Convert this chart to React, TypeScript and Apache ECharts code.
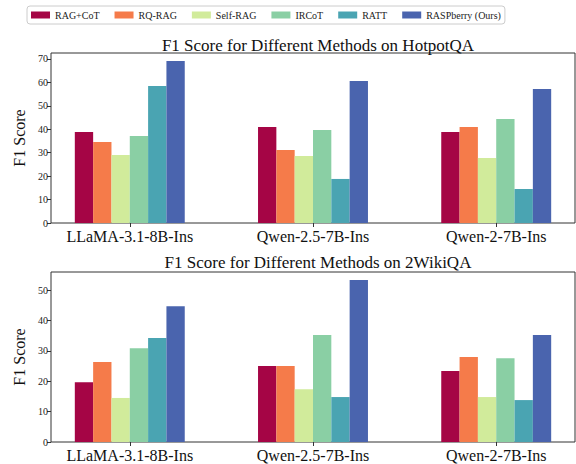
import React, { useEffect, useRef } from "react";
import * as echarts from "echarts";

const models = ["LLaMA-3.1-8B-Ins", "Qwen-2.5-7B-Ins", "Qwen-2-7B-Ins"];
const methods = ["RAG+CoT", "RQ-RAG", "Self-RAG", "IRCoT", "RATT", "RASPberry (Ours)"];
const colors = ["#a50545", "#f57b4a", "#d1eb9b", "#8acfa4", "#4aa4b2", "#4a64ae"];

// HotpotQA F1 per method, order: LLaMA, Qwen-2.5, Qwen-2
const hotpotRagCot = [38.8, 41.0, 38.8];
const hotpotRqRag = [34.6, 31.2, 41.0];
const hotpotSelfRag = [29.0, 28.6, 27.7];
const hotpotIrcot = [37.1, 39.7, 44.4];
const hotpotRatt = [58.5, 18.8, 14.5];
const hotpotRasp = [69.1, 60.6, 57.2];

// 2WikiQA F1
const wikiRagCot = [19.7, 25.0, 23.4];
const wikiRqRag = [26.3, 25.0, 28.0];
const wikiSelfRag = [14.5, 17.4, 14.8];
const wikiIrcot = [30.9, 35.2, 27.6];
const wikiRatt = [34.2, 14.8, 13.8];
const wikiRasp = [44.7, 53.3, 35.2];

const hotpotTicks = [0, 10, 20, 30, 40, 50, 60, 70];
const wikiTicks = [0, 10, 20, 30, 40, 50];

const hotpot = [hotpotRagCot, hotpotRqRag, hotpotSelfRag, hotpotIrcot, hotpotRatt, hotpotRasp];
const wiki = [wikiRagCot, wikiRqRag, wikiSelfRag, wikiIrcot, wikiRatt, wikiRasp];

const FONT = "Liberation Serif";

export default function App() {
  const ref = useRef<HTMLDivElement>(null);
  useEffect(() => {
    if (!ref.current) return;
    const chart = echarts.init(ref.current, undefined, { renderer: "svg" });
    const maxOf = (arr: number[][]) => Math.max(...arr.flat()) * 1.05;
    const modelIdx = [0, 1, 2];
    const xAxis = (gi: number) => ({
      type: "value",
      gridIndex: gi,
      min: -0.43,
      max: 2.43,
      splitLine: { show: false },
      axisLine: { show: false, onZero: false },
      axisTick: { show: true, length: 4, lineStyle: { color: "#333" }, customValues: modelIdx },
      axisLabel: {
        customValues: modelIdx,
        formatter: (v: number) => models[Math.round(v)],
        fontFamily: FONT,
        fontSize: 16,
        color: "#111",
        margin: 5,
      },
    });
    const yAxis = (gi: number, ticks: number[], max: number) => ({
      type: "value",
      gridIndex: gi,
      min: 0,
      max,
      name: "F1 Score",
      nameLocation: "middle",
      nameGap: 19,
      nameTextStyle: { fontFamily: FONT, fontSize: 16, color: "#111" },
      splitLine: { show: false },
      axisLine: { show: false, onZero: false },
      axisTick: { show: true, length: 4, lineStyle: { color: "#333" }, customValues: ticks },
      axisLabel: { customValues: ticks, fontFamily: FONT, fontSize: 10, color: "#222", margin: 3 },
    });
    const series: any[] = [];
    [hotpot, wiki].forEach((ds, gi) => {
      ds.forEach((vals, mi) => {
        series.push({
          type: "bar",
          name: methods[mi],
          xAxisIndex: gi,
          yAxisIndex: gi,
          data: vals.map((v, i) => [modelIdx[i], v]),
          itemStyle: { color: colors[mi] },
          barGap: "0%",
          barCategoryGap: "40%",
        });
      });
    });
    chart.setOption({
      animation: false,
      backgroundColor: "#fff",
      color: colors,
      legend: {
        data: methods,
        left: 27,
        top: 6,
        padding: [4, 4],
        itemGap: 15,
        itemWidth: 19,
        itemHeight: 7,
        icon: "rect",
        borderColor: "#ccc",
        borderWidth: 1,
        borderRadius: 3,
        textStyle: { fontFamily: FONT, fontSize: 10, color: "#222" },
      },
      title: [
        {
          text: "F1 Score for Different Methods on HotpotQA",
          left: 313,
          textAlign: "center",
          top: 32,
          textStyle: { fontFamily: FONT, fontSize: 17, fontWeight: "normal", color: "#111" },
        },
        {
          text: "F1 Score for Different Methods on 2WikiQA",
          left: 313,
          textAlign: "center",
          top: 249,
          textStyle: { fontFamily: FONT, fontSize: 17, fontWeight: "normal", color: "#111" },
        },
      ],
      grid: [
        { left: 51, width: 524, top: 53, height: 170, show: true, borderColor: "#333", borderWidth: 1, backgroundColor: "transparent" },
        { left: 51, width: 524, top: 272, height: 170, show: true, borderColor: "#333", borderWidth: 1, backgroundColor: "transparent" },
      ],
      xAxis: [xAxis(0), xAxis(1)],
      yAxis: [yAxis(0, hotpotTicks, maxOf(hotpot)), yAxis(1, wikiTicks, maxOf(wiki))],
      series,
    });
    return () => chart.dispose();
  }, []);
  return (
    <div
      ref={ref}
      style={{ position: "fixed", left: 0, top: 0, width: 576, height: 464 }}
    />
  );
}
